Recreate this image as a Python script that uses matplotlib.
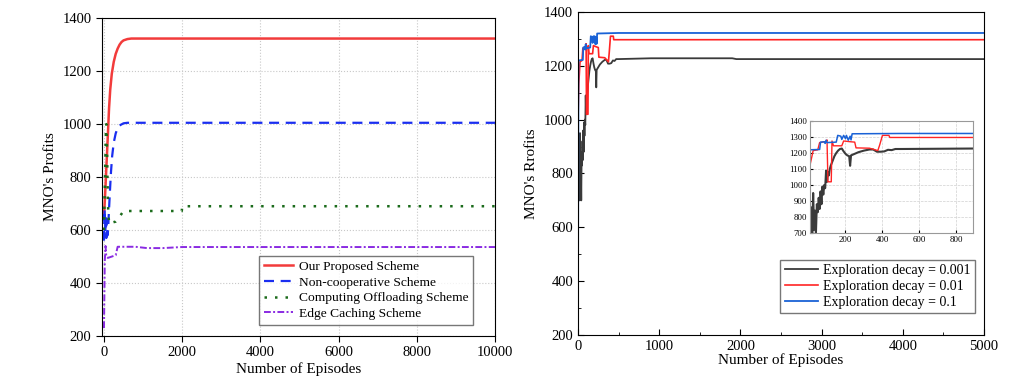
import matplotlib
matplotlib.use("Agg")
import matplotlib.pyplot as plt
from matplotlib.ticker import MultipleLocator

plt.rcParams['font.family'] = ['Liberation Serif', 'DejaVu Serif']

# ---- left panel data ----
ep_prop = [0, 25, 50, 75, 100, 130, 160, 200, 250, 300, 350, 400, 450, 500, 600, 700, 1000, 10000]
prop = [650, 720, 800, 880, 960, 1060, 1130, 1190, 1235, 1265, 1285, 1300, 1310, 1316, 1321, 1323, 1323, 1323]

ep_nonc = [0, 15, 30, 45, 60, 75, 90, 105, 120, 150, 180, 210, 250, 300, 350, 400, 500, 600, 10000]
nonc = [560, 680, 600, 650, 570, 640, 580, 600, 650, 740, 820, 880, 930, 965, 985, 995, 1003, 1005, 1005]

ep_off = [0, 20, 40, 50, 60, 80, 100, 130, 200, 300, 350, 420, 500, 1990, 2000, 10000]
off = [600, 750, 900, 980, 1000, 900, 700, 625, 628, 632, 640, 655, 672, 672, 690, 690]

ep_cache = [0, 10, 20, 40, 60, 100, 200, 300, 350, 400, 800, 1100, 1500, 2000, 10000]
cache = [230, 350, 480, 540, 500, 495, 500, 505, 537, 537, 537, 532, 532, 536, 536]

# ---- right panel data ----
ep_d001 = [0, 5, 10, 15, 20, 25, 30, 35, 40, 45, 50, 55, 60, 65, 70, 75, 80, 85, 90, 95,
           100, 105, 110, 115, 120, 130, 140, 150, 160, 170, 180, 190, 200, 210, 220, 225,
           230, 240, 250, 270, 300, 330, 350, 370, 390, 410, 430, 450, 470, 500, 900, 1900,
           1950, 5000]
d001 = [700, 850, 720, 860, 700, 950, 720, 840, 700, 880, 830, 920, 850, 960, 880, 990, 940,
        1000, 980, 1090, 1020, 1080, 1060, 1100, 1120, 1150, 1180, 1200, 1215, 1225, 1228, 1210,
        1195, 1185, 1180, 1120, 1185, 1190, 1195, 1205, 1215, 1222, 1222, 1208, 1208, 1210, 1220,
        1218, 1225, 1225, 1228, 1228, 1225, 1225]

ep_d01 = [0, 10, 25, 50, 60, 95, 100, 105, 123, 127, 135, 180, 190, 230, 250, 257, 330, 375,
          385, 400, 435, 440, 5000]
d01 = [1000, 1135, 1215, 1220, 1265, 1272, 1282, 1020, 1020, 1275, 1245, 1245, 1275, 1270, 1268,
       1232, 1230, 1215, 1250, 1310, 1310, 1297, 1297]

ep_d1 = [0, 3, 6, 60, 65, 85, 90, 95, 100, 150, 158, 175, 180, 190, 200, 205, 215, 225, 230,
         236, 500, 5000]
d1 = [250, 800, 1220, 1222, 1268, 1270, 1260, 1280, 1265, 1268, 1310, 1305, 1285, 1310, 1290,
      1310, 1280, 1305, 1282, 1320, 1322, 1322]

fig = plt.figure(figsize=(10.11, 3.78), dpi=100)

# left panel
ax1 = fig.add_axes([0.1009, 0.111, 0.3887, 0.841])
ax1.plot(ep_prop, prop, color='#f23b3b', lw=1.8, label='Our Proposed Scheme')
ax1.plot(ep_nonc, nonc, color='#1a2ef0', lw=1.6, ls=(0, (4.5, 3)), label='Non-cooperative Scheme')
ax1.plot(ep_off, off, color='#1b6b1b', lw=1.8, ls=(0, (1, 3.2)), label='Computing Offloading Scheme')
ax1.plot(ep_cache, cache, color='#8a2be2', lw=1.4, ls=(0, (3.5, 1.2, 1, 1.2)), label='Edge Caching Scheme')
ax1.set_xlim(-50, 10000)
ax1.set_ylim(200, 1400)
ax1.set_xticks([0, 2000, 4000, 6000, 8000, 10000])
ax1.set_yticks([200, 400, 600, 800, 1000, 1200, 1400])
ax1.grid(True, color='#c8c8c8', ls=':', lw=0.8)
ax1.tick_params(direction='out', length=4, labelsize=10.5)
ax1.set_xlabel('Number of Episodes', fontsize=11, labelpad=2)
ax1.set_ylabel("MNO's Profits", fontsize=11, labelpad=4)
leg1 = ax1.legend(loc='lower right', bbox_to_anchor=(0.944, 0.035), fontsize=9.7,
                  handlelength=2.2, frameon=True, fancybox=False, borderpad=0.35,
                  labelspacing=0.25, handletextpad=0.4, borderaxespad=0)
leg1.get_frame().set_edgecolor('#555555')
leg1.get_frame().set_linewidth(1.0)

# right panel
c_blk, c_red, c_blu = '#3a3a3a', '#ff2424', '#1a62d6'
ax2 = fig.add_axes([0.5717, 0.1138, 0.4016, 0.8545])
ax2.plot(ep_d001, d001, color=c_blk, lw=1.3, label='Exploration decay = 0.001')
ax2.plot(ep_d01, d01, color=c_red, lw=1.2, label='Exploration decay = 0.01')
ax2.plot(ep_d1, d1, color=c_blu, lw=1.3, label='Exploration decay = 0.1')
ax2.set_xlim(0, 5000)
ax2.set_ylim(200, 1400)
ax2.set_xticks([0, 1000, 2000, 3000, 4000, 5000])
ax2.set_yticks([200, 400, 600, 800, 1000, 1200, 1400])
ax2.xaxis.set_minor_locator(MultipleLocator(500))
ax2.yaxis.set_minor_locator(MultipleLocator(100))
ax2.tick_params(which='major', direction='in', length=4, labelsize=10.5)
ax2.tick_params(which='minor', direction='in', length=2)
ax2.set_xlabel('Number of Episodes', fontsize=11, labelpad=0)
ax2.set_ylabel("MNO's Rrofits", fontsize=11, labelpad=4)
leg2 = ax2.legend(loc='lower right', bbox_to_anchor=(0.978, 0.068), fontsize=10,
                  handlelength=2.4, frameon=True, fancybox=False, borderpad=0.3,
                  labelspacing=0.2, handletextpad=0.4, borderaxespad=0)
leg2.get_frame().set_edgecolor('#555555')
leg2.get_frame().set_linewidth(1.0)

# inset
ax3 = fig.add_axes([0.8012, 0.3836, 0.1612, 0.2963])
ax3.plot(ep_d001, d001, color=c_blk, lw=1.5)
ax3.plot(ep_d01, d01, color=c_red, lw=1.0)
ax3.plot(ep_d1, d1, color=c_blu, lw=1.1)
ax3.set_xlim(8, 890)
ax3.set_ylim(700, 1400)
ax3.set_xticks([200, 400, 600, 800])
ax3.set_yticks(range(700, 1401, 100))
ax3.grid(True, color='#d0d0d0', ls='--', lw=0.5)
ax3.tick_params(direction='in', length=2, labelsize=6.3, pad=2)
for s in ax3.spines.values():
    s.set_color('#999999')

fig.savefig('out.png', dpi=100)
